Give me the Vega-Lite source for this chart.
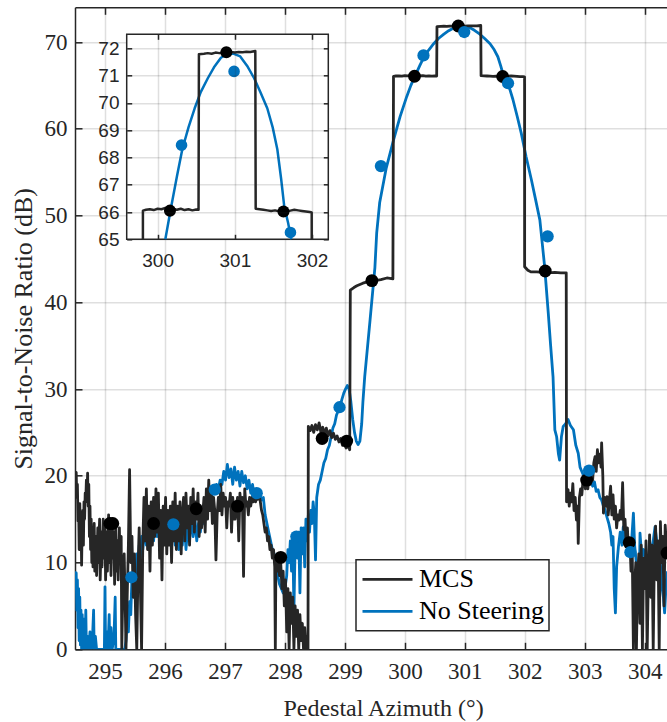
{
  "$schema": "https://vega.github.io/schema/vega-lite/v6.json",
  "width": 592,
  "height": 642,
  "autosize": {"type": "none"},
  "padding": {"left": 75, "top": 7.3, "right": 0, "bottom": 72.7},
  "background": "#ffffff",
  "config": {
    "view": {"stroke": null},
    "axis": {"gridColor": "#262626", "gridOpacity": 0.15, "gridWidth": 1.5, "domainColor": "#262626", "domainWidth": 1.5, "tickColor": "#262626", "tickWidth": 1.5, "labelColor": "#262626", "titleColor": "#262626", "titleFontWeight": "normal", "labelOverlap": false, "labelFlush": false},
    "legend": {"orient": "none", "legendX": 281, "legendY": 552.5, "symbolType": "stroke", "symbolSize": 2500, "symbolStrokeWidth": 2.8, "labelFont": "Liberation Serif", "labelFontSize": 26, "labelColor": "#000000", "strokeColor": "#262626", "strokeWidth": 1.5, "fillColor": "#ffffff", "padding": 5, "clipHeight": 29, "rowPadding": 3, "labelOffset": 5, "cornerRadius": 0, "labelLimit": 400}
  },
  "datasets": {
    "lines": [
      {"s":"MCS","x":294.50,"y":20.5},{"s":"MCS","x":294.51,"y":19.6},{"s":"MCS","x":294.52,"y":20.4},{"s":"MCS","x":294.53,"y":17.5},{"s":"MCS","x":294.54,"y":19.0},{"s":"MCS","x":294.55,"y":14.8},{"s":"MCS","x":294.56,"y":16.5},{"s":"MCS","x":294.57,"y":11.5},{"s":"MCS","x":294.58,"y":16.8},{"s":"MCS","x":294.59,"y":13.0},{"s":"MCS","x":294.60,"y":15.5},{"s":"MCS","x":294.61,"y":9.7},{"s":"MCS","x":294.62,"y":14.5},{"s":"MCS","x":294.63,"y":16.0},{"s":"MCS","x":294.64,"y":12.0},{"s":"MCS","x":294.65,"y":17.0},{"s":"MCS","x":294.66,"y":15.0},{"s":"MCS","x":294.67,"y":18.0},{"s":"MCS","x":294.68,"y":17.2},{"s":"MCS","x":294.69,"y":19.5},{"s":"MCS","x":294.70,"y":17.0},{"s":"MCS","x":294.71,"y":20.3},{"s":"MCS","x":294.72,"y":16.5},{"s":"MCS","x":294.73,"y":19.0},{"s":"MCS","x":294.74,"y":13.0},{"s":"MCS","x":294.75,"y":16.5},{"s":"MCS","x":294.76,"y":11.5},{"s":"MCS","x":294.77,"y":15.0},{"s":"MCS","x":294.78,"y":10.0},{"s":"MCS","x":294.79,"y":13.5},{"s":"MCS","x":294.80,"y":9.5},{"s":"MCS","x":294.82,"y":14.5},{"s":"MCS","x":294.83,"y":9.0},{"s":"MCS","x":294.85,"y":13.0},{"s":"MCS","x":294.86,"y":8.5},{"s":"MCS","x":294.88,"y":14.0},{"s":"MCS","x":294.89,"y":10.0},{"s":"MCS","x":294.91,"y":15.0},{"s":"MCS","x":294.92,"y":8.0},{"s":"MCS","x":294.94,"y":13.5},{"s":"MCS","x":294.95,"y":9.5},{"s":"MCS","x":294.97,"y":15.0},{"s":"MCS","x":294.98,"y":10.5},{"s":"MCS","x":295.00,"y":14.0},{"s":"MCS","x":295.01,"y":8.0},{"s":"MCS","x":295.03,"y":13.5},{"s":"MCS","x":295.04,"y":9.0},{"s":"MCS","x":295.06,"y":15.5},{"s":"MCS","x":295.07,"y":10.0},{"s":"MCS","x":295.09,"y":14.0},{"s":"MCS","x":295.10,"y":8.5},{"s":"MCS","x":295.12,"y":15.0},{"s":"MCS","x":295.13,"y":10.5},{"s":"MCS","x":295.15,"y":13.5},{"s":"MCS","x":295.16,"y":7.5},{"s":"MCS","x":295.18,"y":14.5},{"s":"MCS","x":295.19,"y":9.0},{"s":"MCS","x":295.21,"y":12.5},{"s":"MCS","x":295.22,"y":8.0},{"s":"MCS","x":295.24,"y":14.0},{"s":"MCS","x":295.25,"y":10.0},{"s":"MCS","x":295.27,"y":13.0},{"s":"MCS","x":295.28,"y":0},{"s":"MCS","x":295.30,"y":8.0},{"s":"MCS","x":295.32,"y":11.0},{"s":"MCS","x":295.34,"y":4.0},{"s":"MCS","x":295.35,"y":0},{"s":"MCS","x":295.37,"y":6.0},{"s":"MCS","x":295.39,"y":12.0},{"s":"MCS","x":295.41,"y":20.7},{"s":"MCS","x":295.43,"y":10.0},{"s":"MCS","x":295.45,"y":13.0},{"s":"MCS","x":295.47,"y":6.0},{"s":"MCS","x":295.49,"y":11.0},{"s":"MCS","x":295.51,"y":4.0},{"s":"MCS","x":295.53,"y":0},{"s":"MCS","x":295.55,"y":9.0},{"s":"MCS","x":295.57,"y":14.0},{"s":"MCS","x":295.59,"y":7.0},{"s":"MCS","x":295.61,"y":0},{"s":"MCS","x":295.63,"y":12.0},{"s":"MCS","x":295.65,"y":17.5},{"s":"MCS","x":295.67,"y":12.5},{"s":"MCS","x":295.69,"y":18.5},{"s":"MCS","x":295.71,"y":11.5},{"s":"MCS","x":295.73,"y":16.5},{"s":"MCS","x":295.75,"y":9.0},{"s":"MCS","x":295.77,"y":17.0},{"s":"MCS","x":295.79,"y":12.0},{"s":"MCS","x":295.81,"y":17.5},{"s":"MCS","x":295.83,"y":13.0},{"s":"MCS","x":295.85,"y":18.5},{"s":"MCS","x":295.87,"y":13.5},{"s":"MCS","x":295.89,"y":18.0},{"s":"MCS","x":295.91,"y":10.5},{"s":"MCS","x":295.93,"y":16.0},{"s":"MCS","x":295.95,"y":8.0},{"s":"MCS","x":295.97,"y":16.5},{"s":"MCS","x":295.99,"y":12.0},{"s":"MCS","x":296.01,"y":17.5},{"s":"MCS","x":296.03,"y":11.0},{"s":"MCS","x":296.05,"y":16.0},{"s":"MCS","x":296.07,"y":12.0},{"s":"MCS","x":296.09,"y":16.5},{"s":"MCS","x":296.11,"y":10.0},{"s":"MCS","x":296.13,"y":17.0},{"s":"MCS","x":296.15,"y":12.5},{"s":"MCS","x":296.17,"y":18.0},{"s":"MCS","x":296.19,"y":11.5},{"s":"MCS","x":296.21,"y":16.5},{"s":"MCS","x":296.23,"y":12.5},{"s":"MCS","x":296.25,"y":17.0},{"s":"MCS","x":296.27,"y":11.0},{"s":"MCS","x":296.29,"y":15.5},{"s":"MCS","x":296.31,"y":17.5},{"s":"MCS","x":296.33,"y":12.5},{"s":"MCS","x":296.35,"y":18.0},{"s":"MCS","x":296.37,"y":14.0},{"s":"MCS","x":296.39,"y":16.5},{"s":"MCS","x":296.41,"y":12.0},{"s":"MCS","x":296.43,"y":17.5},{"s":"MCS","x":296.45,"y":14.5},{"s":"MCS","x":296.47,"y":18.5},{"s":"MCS","x":296.49,"y":13.5},{"s":"MCS","x":296.51,"y":17.0},{"s":"MCS","x":296.53,"y":15.0},{"s":"MCS","x":296.55,"y":18.0},{"s":"MCS","x":296.57,"y":13.0},{"s":"MCS","x":296.59,"y":16.5},{"s":"MCS","x":296.61,"y":14.0},{"s":"MCS","x":296.63,"y":15.5},{"s":"MCS","x":296.65,"y":17.5},{"s":"MCS","x":296.67,"y":13.5},{"s":"MCS","x":296.69,"y":18.5},{"s":"MCS","x":296.71,"y":15.0},{"s":"MCS","x":296.73,"y":19.5},{"s":"MCS","x":296.75,"y":16.0},{"s":"MCS","x":296.77,"y":18.5},{"s":"MCS","x":296.79,"y":14.5},{"s":"MCS","x":296.81,"y":17.5},{"s":"MCS","x":296.83,"y":16.0},{"s":"MCS","x":296.85,"y":10.3},{"s":"MCS","x":296.87,"y":15.5},{"s":"MCS","x":296.89,"y":17.5},{"s":"MCS","x":296.91,"y":16.0},{"s":"MCS","x":296.93,"y":19.0},{"s":"MCS","x":296.95,"y":15.5},{"s":"MCS","x":296.97,"y":18.0},{"s":"MCS","x":296.99,"y":16.5},{"s":"MCS","x":297.01,"y":17.5},{"s":"MCS","x":297.03,"y":14.0},{"s":"MCS","x":297.05,"y":17.0},{"s":"MCS","x":297.07,"y":16.5},{"s":"MCS","x":297.09,"y":18.0},{"s":"MCS","x":297.11,"y":13.5},{"s":"MCS","x":297.13,"y":17.5},{"s":"MCS","x":297.15,"y":15.0},{"s":"MCS","x":297.17,"y":15.0},{"s":"MCS","x":297.19,"y":16.5},{"s":"MCS","x":297.21,"y":17.5},{"s":"MCS","x":297.23,"y":12.5},{"s":"MCS","x":297.25,"y":18.0},{"s":"MCS","x":297.27,"y":16.0},{"s":"MCS","x":297.29,"y":17.5},{"s":"MCS","x":297.31,"y":8.4},{"s":"MCS","x":297.33,"y":18.5},{"s":"MCS","x":297.35,"y":16.5},{"s":"MCS","x":297.37,"y":17.0},{"s":"MCS","x":297.39,"y":15.5},{"s":"MCS","x":297.41,"y":17.5},{"s":"MCS","x":297.43,"y":16.5},{"s":"MCS","x":297.45,"y":17.5},{"s":"MCS","x":297.47,"y":17.0},{"s":"MCS","x":297.49,"y":17.8},{"s":"MCS","x":297.51,"y":17.0},{"s":"MCS","x":297.53,"y":17.5},{"s":"MCS","x":297.55,"y":17.3},{"s":"MCS","x":297.57,"y":17.8},{"s":"MCS","x":297.59,"y":17.0},{"s":"MCS","x":297.61,"y":16.0},{"s":"MCS","x":297.63,"y":15.5},{"s":"MCS","x":297.65,"y":14.5},{"s":"MCS","x":297.67,"y":13.5},{"s":"MCS","x":297.69,"y":14.0},{"s":"MCS","x":297.71,"y":12.5},{"s":"MCS","x":297.73,"y":13.0},{"s":"MCS","x":297.75,"y":11.5},{"s":"MCS","x":297.77,"y":12.0},{"s":"MCS","x":297.79,"y":10.5},{"s":"MCS","x":297.81,"y":11.5},{"s":"MCS","x":297.83,"y":9.5},{"s":"MCS","x":297.84,"y":0},{"s":"MCS","x":297.85,"y":10.5},{"s":"MCS","x":297.87,"y":9.0},{"s":"MCS","x":297.89,"y":10.5},{"s":"MCS","x":297.91,"y":8.5},{"s":"MCS","x":297.93,"y":10.0},{"s":"MCS","x":297.95,"y":7.0},{"s":"MCS","x":297.97,"y":9.0},{"s":"MCS","x":297.99,"y":5.0},{"s":"MCS","x":298.01,"y":8.0},{"s":"MCS","x":298.03,"y":2.0},{"s":"MCS","x":298.05,"y":7.0},{"s":"MCS","x":298.07,"y":0},{"s":"MCS","x":298.09,"y":6.5},{"s":"MCS","x":298.11,"y":3.0},{"s":"MCS","x":298.13,"y":6.0},{"s":"MCS","x":298.15,"y":0},{"s":"MCS","x":298.17,"y":5.0},{"s":"MCS","x":298.19,"y":1.5},{"s":"MCS","x":298.21,"y":4.5},{"s":"MCS","x":298.23,"y":0},{"s":"MCS","x":298.25,"y":4.0},{"s":"MCS","x":298.27,"y":1.0},{"s":"MCS","x":298.29,"y":3.0},{"s":"MCS","x":298.31,"y":0},{"s":"MCS","x":298.33,"y":2.5},{"s":"MCS","x":298.35,"y":0},{"s":"MCS","x":298.37,"y":1.5},{"s":"MCS","x":298.385,"y":0},
      {"s":"MCS","x":298.39,"y":25.7},{"s":"MCS","x":298.42,"y":25.2},{"s":"MCS","x":298.45,"y":25.8},{"s":"MCS","x":298.48,"y":25.0},{"s":"MCS","x":298.51,"y":25.9},{"s":"MCS","x":298.54,"y":25.3},{"s":"MCS","x":298.57,"y":26.1},{"s":"MCS","x":298.60,"y":25.0},{"s":"MCS","x":298.63,"y":25.6},{"s":"MCS","x":298.66,"y":24.8},{"s":"MCS","x":298.69,"y":25.5},{"s":"MCS","x":298.72,"y":24.6},{"s":"MCS","x":298.75,"y":25.2},{"s":"MCS","x":298.78,"y":24.4},{"s":"MCS","x":298.81,"y":24.9},{"s":"MCS","x":298.84,"y":24.2},{"s":"MCS","x":298.87,"y":24.6},{"s":"MCS","x":298.90,"y":23.9},{"s":"MCS","x":298.93,"y":24.3},{"s":"MCS","x":298.96,"y":23.5},{"s":"MCS","x":298.99,"y":23.9},{"s":"MCS","x":299.02,"y":23.2},{"s":"MCS","x":299.05,"y":23.6},{"s":"MCS","x":299.08,"y":23.0},
      {"s":"MCS","x":299.09,"y":41.4},{"s":"MCS","x":299.15,"y":41.7},{"s":"MCS","x":299.20,"y":41.9},{"s":"MCS","x":299.30,"y":42.2},{"s":"MCS","x":299.40,"y":42.4},{"s":"MCS","x":299.50,"y":42.5},{"s":"MCS","x":299.60,"y":42.6},{"s":"MCS","x":299.70,"y":42.8},{"s":"MCS","x":299.80,"y":42.7},{"s":"MCS","x":299.8099,"y":65.0},
      {"s":"MCS","x":299.81,"y":66.05},{"s":"MCS","x":299.85,"y":66.08},{"s":"MCS","x":299.90,"y":66.1},{"s":"MCS","x":299.95,"y":66.07},{"s":"MCS","x":300.00,"y":66.12},{"s":"MCS","x":300.05,"y":66.1},{"s":"MCS","x":300.10,"y":66.15},{"s":"MCS","x":300.15,"y":66.1},{"s":"MCS","x":300.20,"y":66.13},{"s":"MCS","x":300.25,"y":66.08},{"s":"MCS","x":300.30,"y":66.12},{"s":"MCS","x":300.35,"y":66.07},{"s":"MCS","x":300.40,"y":66.1},{"s":"MCS","x":300.45,"y":66.06},{"s":"MCS","x":300.50,"y":66.09},{"s":"MCS","x":300.53,"y":66.08},
      {"s":"MCS","x":300.535,"y":71.78},{"s":"MCS","x":300.60,"y":71.8},{"s":"MCS","x":300.65,"y":71.82},{"s":"MCS","x":300.70,"y":71.8},{"s":"MCS","x":300.75,"y":71.84},{"s":"MCS","x":300.80,"y":71.82},{"s":"MCS","x":300.85,"y":71.85},{"s":"MCS","x":300.90,"y":71.83},{"s":"MCS","x":300.95,"y":71.86},{"s":"MCS","x":301.00,"y":71.84},{"s":"MCS","x":301.05,"y":71.86},{"s":"MCS","x":301.10,"y":71.85},{"s":"MCS","x":301.15,"y":71.87},{"s":"MCS","x":301.20,"y":71.86},{"s":"MCS","x":301.265,"y":71.9},
      {"s":"MCS","x":301.27,"y":66.12},{"s":"MCS","x":301.32,"y":66.1},{"s":"MCS","x":301.37,"y":66.08},{"s":"MCS","x":301.42,"y":66.06},{"s":"MCS","x":301.47,"y":66.04},{"s":"MCS","x":301.52,"y":66.06},{"s":"MCS","x":301.57,"y":66.03},{"s":"MCS","x":301.62,"y":66.05},{"s":"MCS","x":301.67,"y":66.02},{"s":"MCS","x":301.72,"y":66.05},{"s":"MCS","x":301.77,"y":66.08},{"s":"MCS","x":301.82,"y":66.06},{"s":"MCS","x":301.87,"y":66.04},{"s":"MCS","x":301.92,"y":66.02},{"s":"MCS","x":301.97,"y":66.0},{"s":"MCS","x":301.995,"y":65.98},{"s":"MCS","x":301.9955,"y":65.0},
      {"s":"MCS","x":301.996,"y":44.1},{"s":"MCS","x":302.05,"y":43.7},{"s":"MCS","x":302.10,"y":43.5},{"s":"MCS","x":302.20,"y":43.5},{"s":"MCS","x":302.30,"y":43.45},{"s":"MCS","x":302.40,"y":43.4},{"s":"MCS","x":302.50,"y":43.45},{"s":"MCS","x":302.60,"y":43.4},{"s":"MCS","x":302.69,"y":43.4},
      {"s":"MCS","x":302.695,"y":17.0},{"s":"MCS","x":302.70,"y":17.5},{"s":"MCS","x":302.72,"y":18.4},{"s":"MCS","x":302.74,"y":16.5},{"s":"MCS","x":302.76,"y":18.0},{"s":"MCS","x":302.78,"y":17.0},{"s":"MCS","x":302.80,"y":19.1},{"s":"MCS","x":302.82,"y":16.0},{"s":"MCS","x":302.84,"y":17.5},{"s":"MCS","x":302.86,"y":14.9},{"s":"MCS","x":302.88,"y":16.5},{"s":"MCS","x":302.89,"y":12.2},{"s":"MCS","x":302.91,"y":17.5},{"s":"MCS","x":302.93,"y":18.5},{"s":"MCS","x":302.95,"y":17.8},{"s":"MCS","x":302.97,"y":19.5},{"s":"MCS","x":302.99,"y":19.9},{"s":"MCS","x":303.01,"y":18.5},{"s":"MCS","x":303.03,"y":19.5},{"s":"MCS","x":303.05,"y":18.5},{"s":"MCS","x":303.07,"y":20.0},{"s":"MCS","x":303.09,"y":19.0},{"s":"MCS","x":303.11,"y":20.3},{"s":"MCS","x":303.13,"y":19.5},{"s":"MCS","x":303.15,"y":21.5},{"s":"MCS","x":303.17,"y":22.2},{"s":"MCS","x":303.19,"y":20.5},{"s":"MCS","x":303.21,"y":23.0},{"s":"MCS","x":303.23,"y":21.5},{"s":"MCS","x":303.25,"y":22.5},{"s":"MCS","x":303.27,"y":21.0},{"s":"MCS","x":303.28,"y":23.8},{"s":"MCS","x":303.30,"y":20.0},{"s":"MCS","x":303.31,"y":15.7},{"s":"MCS","x":303.33,"y":17.5},{"s":"MCS","x":303.35,"y":16.5},{"s":"MCS","x":303.37,"y":17.6},{"s":"MCS","x":303.39,"y":15.5},{"s":"MCS","x":303.41,"y":17.2},{"s":"MCS","x":303.43,"y":18.8},{"s":"MCS","x":303.45,"y":15.5},{"s":"MCS","x":303.47,"y":17.8},{"s":"MCS","x":303.49,"y":15.0},{"s":"MCS","x":303.51,"y":16.5},{"s":"MCS","x":303.53,"y":14.0},{"s":"MCS","x":303.55,"y":15.5},{"s":"MCS","x":303.57,"y":14.9},{"s":"MCS","x":303.59,"y":16.0},{"s":"MCS","x":303.61,"y":15.0},{"s":"MCS","x":303.63,"y":19.2},{"s":"MCS","x":303.65,"y":13.8},{"s":"MCS","x":303.67,"y":15.0},{"s":"MCS","x":303.69,"y":12.2},{"s":"MCS","x":303.71,"y":14.0},{"s":"MCS","x":303.73,"y":11.0},{"s":"MCS","x":303.75,"y":12.8},{"s":"MCS","x":303.77,"y":9.0},{"s":"MCS","x":303.79,"y":11.5},{"s":"MCS","x":303.81,"y":0},{"s":"MCS","x":303.83,"y":7.5},{"s":"MCS","x":303.85,"y":10.0},{"s":"MCS","x":303.86,"y":0},{"s":"MCS","x":303.88,"y":8.0},{"s":"MCS","x":303.90,"y":11.0},{"s":"MCS","x":303.92,"y":3.0},{"s":"MCS","x":303.94,"y":12.0},{"s":"MCS","x":303.96,"y":0},{"s":"MCS","x":303.98,"y":10.5},{"s":"MCS","x":304.00,"y":7.0},{"s":"MCS","x":304.02,"y":12.5},{"s":"MCS","x":304.04,"y":0},{"s":"MCS","x":304.06,"y":9.0},{"s":"MCS","x":304.08,"y":13.2},{"s":"MCS","x":304.10,"y":6.0},{"s":"MCS","x":304.12,"y":12.0},{"s":"MCS","x":304.14,"y":0},{"s":"MCS","x":304.16,"y":11.0},{"s":"MCS","x":304.18,"y":14.2},{"s":"MCS","x":304.20,"y":8.0},{"s":"MCS","x":304.22,"y":12.5},{"s":"MCS","x":304.24,"y":0},{"s":"MCS","x":304.26,"y":14.7},{"s":"MCS","x":304.28,"y":10.0},{"s":"MCS","x":304.30,"y":13.0},{"s":"MCS","x":304.32,"y":5.0},{"s":"MCS","x":304.34,"y":14.3},{"s":"MCS","x":304.36,"y":12.0},{"s":"MCS","x":304.38,"y":11.0},
      {"s":"No Steering","x":294.50,"y":9.0},{"s":"No Steering","x":294.51,"y":7.0},{"s":"No Steering","x":294.52,"y":8.8},{"s":"No Steering","x":294.53,"y":4.5},{"s":"No Steering","x":294.54,"y":8.0},{"s":"No Steering","x":294.55,"y":2.5},{"s":"No Steering","x":294.56,"y":7.0},{"s":"No Steering","x":294.57,"y":1.0},{"s":"No Steering","x":294.58,"y":6.0},{"s":"No Steering","x":294.59,"y":0.5},{"s":"No Steering","x":294.60,"y":4.5},{"s":"No Steering","x":294.61,"y":0},{"s":"No Steering","x":294.62,"y":4.0},{"s":"No Steering","x":294.63,"y":1.0},{"s":"No Steering","x":294.64,"y":3.5},{"s":"No Steering","x":294.65,"y":0},{"s":"No Steering","x":294.66,"y":3.0},{"s":"No Steering","x":294.67,"y":0.5},{"s":"No Steering","x":294.68,"y":4.5},{"s":"No Steering","x":294.69,"y":0},{"s":"No Steering","x":294.71,"y":1.5},{"s":"No Steering","x":294.73,"y":0},{"s":"No Steering","x":294.75,"y":2.0},{"s":"No Steering","x":294.77,"y":0},{"s":"No Steering","x":294.79,"y":1.0},{"s":"No Steering","x":294.81,"y":4.5},{"s":"No Steering","x":294.82,"y":0},{"s":"No Steering","x":294.84,"y":1.5},{"s":"No Steering","x":294.86,"y":0},{"s":"No Steering","x":294.99,"y":0},{"s":"No Steering","x":295.00,"y":7.2},{"s":"No Steering","x":295.01,"y":0},{"s":"No Steering","x":295.03,"y":2.0},{"s":"No Steering","x":295.05,"y":0},{"s":"No Steering","x":295.07,"y":4.0},{"s":"No Steering","x":295.08,"y":0},{"s":"No Steering","x":295.10,"y":2.5},{"s":"No Steering","x":295.12,"y":0},{"s":"No Steering","x":295.15,"y":1.5},{"s":"No Steering","x":295.17,"y":6.0},{"s":"No Steering","x":295.18,"y":0},{"s":"No Steering","x":295.33,"y":0},{"s":"No Steering","x":295.35,"y":1.0},{"s":"No Steering","x":295.37,"y":3.5},{"s":"No Steering","x":295.39,"y":2.0},{"s":"No Steering","x":295.41,"y":5.5},{"s":"No Steering","x":295.43,"y":4.0},{"s":"No Steering","x":295.45,"y":8.5},{"s":"No Steering","x":295.47,"y":6.5},{"s":"No Steering","x":295.49,"y":9.5},{"s":"No Steering","x":295.51,"y":7.5},{"s":"No Steering","x":295.53,"y":11.0},{"s":"No Steering","x":295.55,"y":9.0},{"s":"No Steering","x":295.57,"y":12.0},{"s":"No Steering","x":295.59,"y":10.5},{"s":"No Steering","x":295.61,"y":13.0},{"s":"No Steering","x":295.63,"y":11.5},{"s":"No Steering","x":295.66,"y":14.0},{"s":"No Steering","x":295.69,"y":12.0},{"s":"No Steering","x":295.72,"y":15.5},{"s":"No Steering","x":295.75,"y":13.0},{"s":"No Steering","x":295.78,"y":14.5},{"s":"No Steering","x":295.81,"y":12.5},{"s":"No Steering","x":295.84,"y":15.0},{"s":"No Steering","x":295.87,"y":13.0},{"s":"No Steering","x":295.90,"y":14.5},{"s":"No Steering","x":295.93,"y":12.0},{"s":"No Steering","x":295.96,"y":15.0},{"s":"No Steering","x":295.99,"y":13.5},{"s":"No Steering","x":296.02,"y":15.5},{"s":"No Steering","x":296.05,"y":12.5},{"s":"No Steering","x":296.08,"y":14.5},{"s":"No Steering","x":296.11,"y":13.0},{"s":"No Steering","x":296.14,"y":15.0},{"s":"No Steering","x":296.17,"y":12.0},{"s":"No Steering","x":296.20,"y":14.5},{"s":"No Steering","x":296.23,"y":11.5},{"s":"No Steering","x":296.26,"y":14.0},{"s":"No Steering","x":296.29,"y":12.0},{"s":"No Steering","x":296.32,"y":15.5},{"s":"No Steering","x":296.35,"y":11.5},{"s":"No Steering","x":296.38,"y":14.0},{"s":"No Steering","x":296.41,"y":12.5},{"s":"No Steering","x":296.44,"y":15.5},{"s":"No Steering","x":296.47,"y":13.0},{"s":"No Steering","x":296.50,"y":15.0},{"s":"No Steering","x":296.53,"y":12.5},{"s":"No Steering","x":296.56,"y":14.5},{"s":"No Steering","x":296.59,"y":13.5},{"s":"No Steering","x":296.62,"y":15.5},{"s":"No Steering","x":296.65,"y":14.5},{"s":"No Steering","x":296.68,"y":16.5},{"s":"No Steering","x":296.71,"y":16.0},{"s":"No Steering","x":296.74,"y":17.5},{"s":"No Steering","x":296.77,"y":17.0},{"s":"No Steering","x":296.80,"y":18.5},{"s":"No Steering","x":296.83,"y":18.0},{"s":"No Steering","x":296.86,"y":19.0},{"s":"No Steering","x":296.89,"y":18.5},{"s":"No Steering","x":296.92,"y":19.5},{"s":"No Steering","x":296.95,"y":19.0},{"s":"No Steering","x":296.98,"y":20.5},{"s":"No Steering","x":297.01,"y":19.5},{"s":"No Steering","x":297.04,"y":21.3},{"s":"No Steering","x":297.07,"y":19.8},{"s":"No Steering","x":297.10,"y":20.8},{"s":"No Steering","x":297.13,"y":19.0},{"s":"No Steering","x":297.16,"y":21.0},{"s":"No Steering","x":297.19,"y":19.5},{"s":"No Steering","x":297.22,"y":20.5},{"s":"No Steering","x":297.25,"y":18.8},{"s":"No Steering","x":297.28,"y":20.5},{"s":"No Steering","x":297.31,"y":19.2},{"s":"No Steering","x":297.34,"y":20.0},{"s":"No Steering","x":297.37,"y":18.5},{"s":"No Steering","x":297.40,"y":19.5},{"s":"No Steering","x":297.43,"y":18.0},{"s":"No Steering","x":297.46,"y":19.0},{"s":"No Steering","x":297.49,"y":17.5},{"s":"No Steering","x":297.52,"y":18.0},{"s":"No Steering","x":297.55,"y":17.5},{"s":"No Steering","x":297.58,"y":17.8},{"s":"No Steering","x":297.61,"y":17.2},{"s":"No Steering","x":297.64,"y":17.5},{"s":"No Steering","x":297.67,"y":15.5},{"s":"No Steering","x":297.70,"y":14.5},{"s":"No Steering","x":297.73,"y":13.5},{"s":"No Steering","x":297.76,"y":12.5},{"s":"No Steering","x":297.79,"y":11.5},{"s":"No Steering","x":297.82,"y":11.0},{"s":"No Steering","x":297.85,"y":9.5},{"s":"No Steering","x":297.88,"y":8.5},{"s":"No Steering","x":297.91,"y":7.5},{"s":"No Steering","x":297.94,"y":7.0},{"s":"No Steering","x":297.97,"y":6.5},{"s":"No Steering","x":298.00,"y":7.0},{"s":"No Steering","x":298.03,"y":8.5},{"s":"No Steering","x":298.05,"y":11.5},{"s":"No Steering","x":298.07,"y":10.0},{"s":"No Steering","x":298.09,"y":12.5},{"s":"No Steering","x":298.11,"y":9.0},{"s":"No Steering","x":298.13,"y":13.0},{"s":"No Steering","x":298.15,"y":4.5},{"s":"No Steering","x":298.17,"y":12.0},{"s":"No Steering","x":298.19,"y":13.0},{"s":"No Steering","x":298.21,"y":10.5},{"s":"No Steering","x":298.23,"y":13.5},{"s":"No Steering","x":298.25,"y":6.5},{"s":"No Steering","x":298.27,"y":14.0},{"s":"No Steering","x":298.29,"y":11.0},{"s":"No Steering","x":298.31,"y":14.0},{"s":"No Steering","x":298.33,"y":9.5},{"s":"No Steering","x":298.35,"y":15.0},{"s":"No Steering","x":298.37,"y":12.5},{"s":"No Steering","x":298.39,"y":15.5},{"s":"No Steering","x":298.41,"y":13.5},{"s":"No Steering","x":298.43,"y":16.0},{"s":"No Steering","x":298.45,"y":14.5},{"s":"No Steering","x":298.47,"y":17.0},{"s":"No Steering","x":298.49,"y":15.5},{"s":"No Steering","x":298.51,"y":10.3},{"s":"No Steering","x":298.53,"y":17.5},{"s":"No Steering","x":298.56,"y":19.0},{"s":"No Steering","x":298.59,"y":19.5},{"s":"No Steering","x":298.62,"y":20.5},{"s":"No Steering","x":298.65,"y":21.5},{"s":"No Steering","x":298.68,"y":22.0},{"s":"No Steering","x":298.71,"y":23.0},{"s":"No Steering","x":298.74,"y":23.5},{"s":"No Steering","x":298.77,"y":24.5},{"s":"No Steering","x":298.80,"y":25.5},{"s":"No Steering","x":298.83,"y":26.0},{"s":"No Steering","x":298.86,"y":27.0},{"s":"No Steering","x":298.89,"y":27.5},{"s":"No Steering","x":298.92,"y":28.0},{"s":"No Steering","x":298.95,"y":28.8},{"s":"No Steering","x":298.98,"y":29.5},{"s":"No Steering","x":299.01,"y":30.0},{"s":"No Steering","x":299.04,"y":30.4},{"s":"No Steering","x":299.07,"y":30.0},{"s":"No Steering","x":299.10,"y":28.5},{"s":"No Steering","x":299.13,"y":26.5},{"s":"No Steering","x":299.16,"y":25.0},{"s":"No Steering","x":299.19,"y":24.0},{"s":"No Steering","x":299.22,"y":23.6},{"s":"No Steering","x":299.25,"y":24.0},{"s":"No Steering","x":299.28,"y":26.0},{"s":"No Steering","x":299.30,"y":28.5},{"s":"No Steering","x":299.33,"y":31.4},{"s":"No Steering","x":299.42,"y":38.0},{"s":"No Steering","x":299.50,"y":44.0},{"s":"No Steering","x":299.53,"y":48.0},{"s":"No Steering","x":299.58,"y":51.5},{"s":"No Steering","x":299.69,"y":55.5},{"s":"No Steering","x":299.81,"y":58.7},{"s":"No Steering","x":299.92,"y":61.4},{"s":"No Steering","x":300.03,"y":63.7},{"s":"No Steering","x":300.10,"y":65.0},{"s":"No Steering","x":300.17,"y":66.1},{"s":"No Steering","x":300.25,"y":67.3},{"s":"No Steering","x":300.32,"y":68.3},{"s":"No Steering","x":300.40,"y":69.1},{"s":"No Steering","x":300.48,"y":69.8},{"s":"No Steering","x":300.56,"y":70.4},{"s":"No Steering","x":300.65,"y":70.9},{"s":"No Steering","x":300.73,"y":71.3},{"s":"No Steering","x":300.82,"y":71.65},{"s":"No Steering","x":300.90,"y":71.8},{"s":"No Steering","x":300.98,"y":71.8},{"s":"No Steering","x":301.07,"y":71.7},{"s":"No Steering","x":301.16,"y":71.35},{"s":"No Steering","x":301.25,"y":70.9},{"s":"No Steering","x":301.33,"y":70.4},{"s":"No Steering","x":301.42,"y":69.8},{"s":"No Steering","x":301.49,"y":69.1},{"s":"No Steering","x":301.55,"y":68.3},{"s":"No Steering","x":301.60,"y":67.2},{"s":"No Steering","x":301.64,"y":66.2},{"s":"No Steering","x":301.69,"y":65.6},{"s":"No Steering","x":301.73,"y":65.0},{"s":"No Steering","x":301.80,"y":63.4},{"s":"No Steering","x":301.87,"y":61.5},{"s":"No Steering","x":301.94,"y":59.5},{"s":"No Steering","x":302.02,"y":56.8},{"s":"No Steering","x":302.11,"y":54.1},{"s":"No Steering","x":302.18,"y":51.8},{"s":"No Steering","x":302.25,"y":49.5},{"s":"No Steering","x":302.33,"y":44.1},{"s":"No Steering","x":302.39,"y":38.8},{"s":"No Steering","x":302.43,"y":35.0},{"s":"No Steering","x":302.47,"y":31.4},{"s":"No Steering","x":302.50,"y":25.3},{"s":"No Steering","x":302.53,"y":24.5},{"s":"No Steering","x":302.56,"y":22.5},{"s":"No Steering","x":302.58,"y":21.8},{"s":"No Steering","x":302.61,"y":24.5},{"s":"No Steering","x":302.64,"y":25.7},{"s":"No Steering","x":302.68,"y":26.0},{"s":"No Steering","x":302.72,"y":26.5},{"s":"No Steering","x":302.76,"y":25.8},{"s":"No Steering","x":302.81,"y":25.3},{"s":"No Steering","x":302.85,"y":23.5},{"s":"No Steering","x":302.89,"y":22.6},{"s":"No Steering","x":302.92,"y":21.0},{"s":"No Steering","x":302.95,"y":20.5},{"s":"No Steering","x":302.98,"y":20.0},{"s":"No Steering","x":303.01,"y":19.6},{"s":"No Steering","x":303.04,"y":20.3},{"s":"No Steering","x":303.07,"y":20.6},{"s":"No Steering","x":303.10,"y":19.5},{"s":"No Steering","x":303.13,"y":18.8},{"s":"No Steering","x":303.16,"y":19.3},{"s":"No Steering","x":303.19,"y":18.2},{"s":"No Steering","x":303.22,"y":18.4},{"s":"No Steering","x":303.25,"y":17.5},{"s":"No Steering","x":303.28,"y":17.2},{"s":"No Steering","x":303.31,"y":16.5},{"s":"No Steering","x":303.34,"y":16.0},{"s":"No Steering","x":303.37,"y":15.2},{"s":"No Steering","x":303.40,"y":14.5},{"s":"No Steering","x":303.43,"y":13.5},{"s":"No Steering","x":303.45,"y":12.0},{"s":"No Steering","x":303.47,"y":13.0},{"s":"No Steering","x":303.49,"y":7.0},{"s":"No Steering","x":303.51,"y":4.2},{"s":"No Steering","x":303.53,"y":9.5},{"s":"No Steering","x":303.56,"y":11.8},{"s":"No Steering","x":303.59,"y":13.5},{"s":"No Steering","x":303.62,"y":12.0},{"s":"No Steering","x":303.64,"y":14.1},{"s":"No Steering","x":303.66,"y":12.5},{"s":"No Steering","x":303.69,"y":13.0},{"s":"No Steering","x":303.72,"y":11.5},{"s":"No Steering","x":303.75,"y":11.1},{"s":"No Steering","x":303.78,"y":12.5},{"s":"No Steering","x":303.81,"y":15.7},{"s":"No Steering","x":303.83,"y":12.0},{"s":"No Steering","x":303.86,"y":9.9},{"s":"No Steering","x":303.88,"y":6.5},{"s":"No Steering","x":303.90,"y":4.5},{"s":"No Steering","x":303.92,"y":13.4},{"s":"No Steering","x":303.95,"y":10.5},{"s":"No Steering","x":303.98,"y":11.5},{"s":"No Steering","x":304.00,"y":11.0},{"s":"No Steering","x":304.03,"y":9.5},{"s":"No Steering","x":304.06,"y":10.5},{"s":"No Steering","x":304.08,"y":8.0},{"s":"No Steering","x":304.11,"y":11.5},{"s":"No Steering","x":304.14,"y":12.5},{"s":"No Steering","x":304.17,"y":14.1},{"s":"No Steering","x":304.20,"y":12.5},{"s":"No Steering","x":304.23,"y":10.5},{"s":"No Steering","x":304.25,"y":11.0},{"s":"No Steering","x":304.28,"y":7.5},{"s":"No Steering","x":304.31,"y":6.0},{"s":"No Steering","x":304.33,"y":4.2},{"s":"No Steering","x":304.36,"y":8.0},{"s":"No Steering","x":304.38,"y":9.0}
    ],
    "dots": [
      {"s":"MCS","x":295.08,"y":14.5},{"s":"MCS","x":295.13,"y":14.5},{"s":"MCS","x":295.81,"y":14.5},{"s":"MCS","x":296.52,"y":16.2},{"s":"MCS","x":297.21,"y":16.5},{"s":"MCS","x":297.93,"y":10.6},{"s":"MCS","x":298.62,"y":24.3},{"s":"MCS","x":299.03,"y":24.0},{"s":"MCS","x":299.45,"y":42.5},{"s":"MCS","x":300.16,"y":66.05},{"s":"MCS","x":300.89,"y":71.85},{"s":"MCS","x":301.63,"y":66.02},{"s":"MCS","x":302.34,"y":43.6},{"s":"MCS","x":303.03,"y":19.5},{"s":"MCS","x":303.74,"y":12.3},{"s":"MCS","x":304.37,"y":11.1},
      {"s":"No Steering","x":295.44,"y":8.3},{"s":"No Steering","x":296.14,"y":14.4},{"s":"No Steering","x":296.83,"y":18.4},{"s":"No Steering","x":297.53,"y":18.0},{"s":"No Steering","x":298.19,"y":13.0},{"s":"No Steering","x":298.91,"y":27.9},{"s":"No Steering","x":299.60,"y":55.7},{"s":"No Steering","x":300.31,"y":68.45},{"s":"No Steering","x":300.99,"y":71.15},{"s":"No Steering","x":301.72,"y":65.25},{"s":"No Steering","x":302.38,"y":47.6},{"s":"No Steering","x":303.07,"y":20.6},{"s":"No Steering","x":303.76,"y":11.2}
    ]
  },
  "resolve": {"scale": {"x": "independent", "y": "independent"}},
  "layer": [
    {
      "resolve": {"axis": {"x": "independent", "y": "independent"}},
      "layer": [
        {
          "data": {"name": "lines"},
          "transform": [{"filter": "datum.s === 'No Steering'"}],
          "mark": {"type": "line", "strokeWidth": 2.8, "clip": true, "strokeJoin": "round"},
          "encoding": {
            "x": {"field": "x", "type": "quantitative", "scale": {"domain": [294.5, 304.37], "nice": false, "zero": false},
                  "axis": {"orient": "bottom", "values": [295, 296, 297, 298, 299, 300, 301, 302, 303, 304], "format": "d", "grid": true, "tickSize": -7, "labelPadding": 18, "labelFont": "Liberation Serif", "labelFontSize": 23, "title": "Pedestal Azimuth (°)", "titleFont": "Liberation Serif", "titleFontSize": 24, "titleX": 308, "titleY": 66, "titleBaseline": "alphabetic", "titleAlign": "center"}},
            "y": {"field": "y", "type": "quantitative", "scale": {"domain": [0, 74], "nice": false, "zero": false},
                  "axis": {"orient": "left", "values": [0, 10, 20, 30, 40, 50, 60, 70], "grid": true, "tickSize": -7, "labelPadding": 15, "labelFont": "Liberation Serif", "labelFontSize": 23, "title": "Signal-to-Noise Ratio (dB)", "titleFont": "Liberation Serif", "titleFontSize": 26, "titleX": -44, "titleY": 321, "titleAngle": 270, "titleBaseline": "alphabetic", "titleAlign": "center"}},
            "color": {"field": "s", "type": "nominal", "scale": {"domain": ["MCS", "No Steering"], "range": ["#262626", "#0072BD"]}, "legend": {"title": null}}
          }
        },
        {
          "data": {"name": "lines"},
          "transform": [{"filter": "datum.s === 'MCS'"}],
          "mark": {"type": "line", "strokeWidth": 2.8, "clip": true, "strokeJoin": "round"},
          "encoding": {
            "x": {"field": "x", "type": "quantitative", "scale": {"domain": [294.5, 304.37], "nice": false, "zero": false},
                  "axis": {"orient": "top", "values": [295, 296, 297, 298, 299, 300, 301, 302, 303, 304], "grid": false, "labels": false, "tickSize": -7, "title": null}},
            "y": {"field": "y", "type": "quantitative", "scale": {"domain": [0, 74], "nice": false, "zero": false}, "axis": null},
            "color": {"field": "s", "type": "nominal", "scale": {"domain": ["MCS", "No Steering"], "range": ["#262626", "#0072BD"]}, "legend": {"title": null}}
          }
        },
        {
          "data": {"name": "dots"},
          "transform": [{"filter": "datum.s === 'MCS'"}],
          "mark": {"type": "circle", "size": 165, "opacity": 1, "color": "#000000"},
          "encoding": {
            "x": {"field": "x", "type": "quantitative", "axis": null},
            "y": {"field": "y", "type": "quantitative", "axis": null}
          }
        },
        {
          "data": {"name": "dots"},
          "transform": [{"filter": "datum.s === 'No Steering'"}],
          "mark": {"type": "circle", "size": 150, "opacity": 1, "color": "#0072BD"},
          "encoding": {
            "x": {"field": "x", "type": "quantitative", "axis": null},
            "y": {"field": "y", "type": "quantitative", "axis": null}
          }
        }
      ]
    },
    {
      "resolve": {"axis": {"x": "independent", "y": "independent"}},
      "layer": [
        {
          "data": {"values": [{}]},
          "mark": {"type": "rect", "fill": "#ffffff", "stroke": "#262626", "strokeWidth": 1.5},
          "encoding": {
            "x": {"datum": 299.6, "type": "quantitative", "scale": {"domain": [299.6, 302.21], "range": [51.7, 253.3], "nice": false, "zero": false},
                  "axis": {"orient": "bottom", "offset": -410, "values": [300, 301, 302], "format": "d", "grid": false, "domain": false, "tickSize": -5, "labelPadding": 17.6, "labelFont": "Liberation Sans", "labelFontSize": 19, "title": null, "zindex": 1}},
            "x2": {"datum": 302.21},
            "y": {"datum": 65, "type": "quantitative", "scale": {"domain": [65, 72.51], "range": [232, 27], "nice": false, "zero": false},
                  "axis": {"orient": "left", "offset": -51.7, "values": [65, 66, 67, 68, 69, 70, 71, 72], "grid": true, "domain": false, "tickSize": -5, "labelPadding": 12.7, "labelFont": "Liberation Sans", "labelFontSize": 19, "title": null, "zindex": 1}},
            "y2": {"datum": 72.51}
          }
        },
        {
          "data": {"name": "lines"},
          "transform": [{"filter": "datum.s === 'No Steering' && datum.x >= 299.6 && datum.x <= 302.21 && datum.y >= 64.99"}],
          "mark": {"type": "line", "strokeWidth": 2.5, "strokeJoin": "round"},
          "encoding": {
            "x": {"field": "x", "type": "quantitative", "scale": {"domain": [299.6, 302.21], "range": [51.7, 253.3], "nice": false, "zero": false},
                  "axis": {"orient": "top", "offset": -27, "values": [300, 301, 302], "grid": true, "labels": false, "domain": false, "tickSize": -5, "title": null, "zindex": 1}},
            "y": {"field": "y", "type": "quantitative", "scale": {"domain": [65, 72.51], "range": [232, 27], "nice": false, "zero": false},
                  "axis": {"orient": "right", "offset": -338.7, "values": [65, 66, 67, 68, 69, 70, 71, 72], "grid": false, "labels": false, "domain": false, "tickSize": -5, "title": null, "zindex": 1}},
            "color": {"field": "s", "type": "nominal", "scale": {"domain": ["MCS", "No Steering"], "range": ["#262626", "#0072BD"]}, "legend": {"title": null}}
          }
        },
        {
          "data": {"name": "lines"},
          "transform": [{"filter": "datum.s === 'MCS' && datum.x >= 299.6 && datum.x <= 302.21 && datum.y >= 64.99"}],
          "mark": {"type": "line", "strokeWidth": 2.5, "strokeJoin": "round"},
          "encoding": {
            "x": {"field": "x", "type": "quantitative", "axis": null},
            "y": {"field": "y", "type": "quantitative", "axis": null},
            "color": {"field": "s", "type": "nominal", "scale": {"domain": ["MCS", "No Steering"], "range": ["#262626", "#0072BD"]}, "legend": {"title": null}}
          }
        },
        {
          "data": {"name": "dots"},
          "transform": [{"filter": "datum.s === 'MCS' && datum.x >= 299.6 && datum.x <= 302.21 && datum.y >= 65"}],
          "mark": {"type": "circle", "size": 145, "opacity": 1, "color": "#000000"},
          "encoding": {
            "x": {"field": "x", "type": "quantitative", "axis": null},
            "y": {"field": "y", "type": "quantitative", "axis": null}
          }
        },
        {
          "data": {"name": "dots"},
          "transform": [{"filter": "datum.s === 'No Steering' && datum.x >= 299.6 && datum.x <= 302.21 && datum.y >= 65"}],
          "mark": {"type": "circle", "size": 135, "opacity": 1, "color": "#0072BD"},
          "encoding": {
            "x": {"field": "x", "type": "quantitative", "axis": null},
            "y": {"field": "y", "type": "quantitative", "axis": null}
          }
        }
      ]
    }
  ]
}
